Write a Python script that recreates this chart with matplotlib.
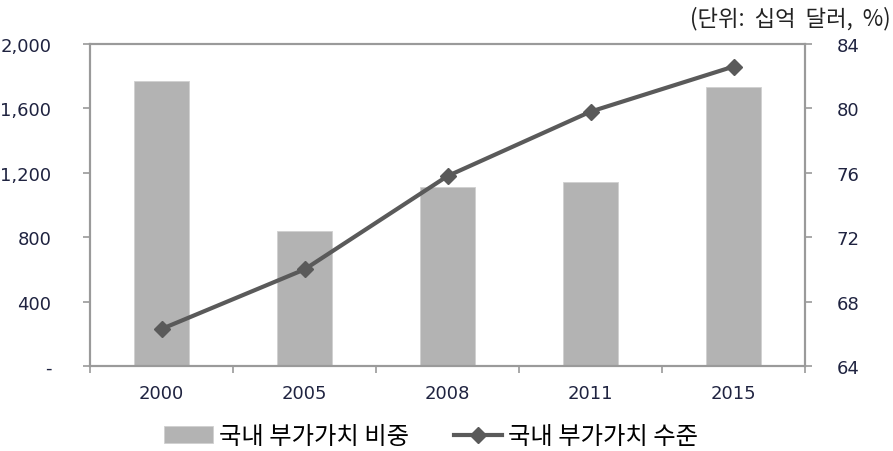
import matplotlib.pyplot as plt
import numpy as np

plt.rcParams['font.family'] = ['DejaVu Sans', 'Noto Sans CJK KR']

# 연도별 국내 부가가치 비중(막대)과 수준(선)
years = ['2000', '2005', '2008', '2011', '2015']
share = [1770, 840, 1110, 1140, 1730]
level = [66.3, 70.0, 75.8, 79.8, 82.6]

left_ticks = [0, 400, 800, 1200, 1600, 2000]
left_labels = ['-', '400', '800', '1,200', '1,600', '2,000']
right_ticks = [64, 68, 72, 76, 80, 84]

tick_color = '#1f2340'
spine_color = '#9a9a9a'
tick_font = {'family': 'DejaVu Sans', 'size': 13}

fig = plt.figure(figsize=(8.93, 4.52), dpi=100)
ax = fig.add_axes([0.1008, 0.188, 0.8007, 0.7124])
ax2 = ax.twinx()

x = np.arange(len(years))
ax.bar(x, share, width=0.39, color='#b3b3b3', edgecolor='#d0d0d0', linewidth=0.6,
       label='국내 부가가치 비중', zorder=2)
ax2.plot(x, level, color='#5a5a5a', linewidth=3, marker='D', markersize=8,
         label='국내 부가가치 수준', zorder=3)

ax.set_xlim(-0.5, len(years) - 0.5)
ax.set_ylim(0, 2000)
ax2.set_ylim(64, 84)

ax.set_yticks(left_ticks)
ax.set_yticklabels(left_labels, fontdict=tick_font)
ax2.set_yticks(right_ticks)
ax2.set_yticklabels([str(t) for t in right_ticks], fontdict=tick_font)
ax.set_xticks(x)
ax.set_xticklabels(years, fontdict=tick_font)
ax.set_xticks(np.arange(len(years) + 1) - 0.5, minor=True)

ax.tick_params(axis='x', which='major', length=0, pad=13, labelcolor=tick_color)
ax.tick_params(axis='x', which='minor', length=5, direction='out', color=spine_color, width=1.2)
ax.tick_params(axis='y', length=5, direction='out', color=spine_color, width=1.2,
               labelcolor=tick_color, pad=23)
ax2.tick_params(axis='y', length=5, direction='out', color=spine_color, width=1.2,
                labelcolor=tick_color, pad=18)

for a in (ax, ax2):
    for s in a.spines.values():
        s.set_color(spine_color)
        s.set_linewidth(1.5)

# 범례는 차트 아래 가운데
h1, l1 = ax.get_legend_handles_labels()
h2, l2 = ax2.get_legend_handles_labels()
fig.legend(h1 + h2, l1 + l2, loc='lower center', bbox_to_anchor=(0.483, -0.045), ncol=2,
           frameon=False, prop={'family': 'Noto Sans CJK KR', 'size': 17.5},
           handlelength=2.0, handletextpad=0.25, columnspacing=1.85)

fig.text(0.997, 0.958, '(단위:  십억  달러,  %)', ha='right', va='center',
         fontsize=16, family='Noto Sans CJK KR', color='#222222')

fig.savefig('out.png', dpi=100)
